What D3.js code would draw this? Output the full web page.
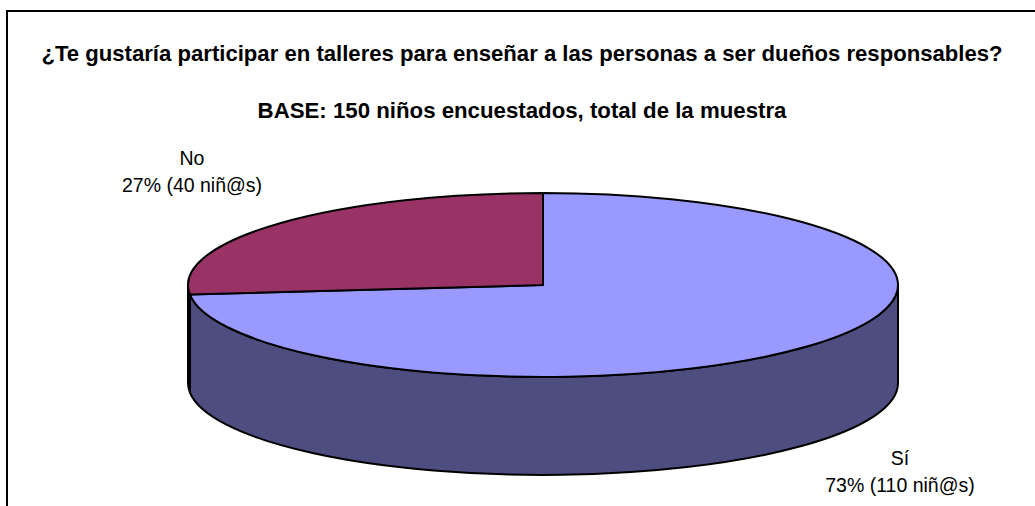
<!DOCTYPE html>
<html>
<head>
<meta charset="utf-8">
<script src="https://cdn.jsdelivr.net/npm/d3@7"></script>
<style>
  html, body { margin: 0; padding: 0; background: #fff; }
  svg { display: block; font-family: "Liberation Sans", Arial, sans-serif; }
</style>
</head>
<body>
<svg id="chart" width="1035" height="506"></svg>
<script>
// Survey answers
const categories = ["Sí", "No"];
const counts = [110, 40];
const topColors = ["#9999FF", "#993366"];
const sideColors = ["#4D4D80", "#4D1A33"];

const title = "¿Te gustaría participar en talleres para enseñar a las personas a ser dueños responsables?";
const subtitle = "BASE: 150 niños encuestados, total de la muestra";
const unit = "niñ@s";

const svg = d3.select("#chart");
const W = 1035, H = 506;

// Chart frame (runs off the right and bottom edges)
svg.append("rect")
  .attr("x", 7).attr("y", 11)
  .attr("width", W + 20).attr("height", H + 20)
  .attr("fill", "#fff").attr("stroke", "#000").attr("stroke-width", 2);

// Shrinks or grows a text's font size so that it spans the given width
function fitWidth(sel, width) {
  const node = sel.node();
  const fs = parseFloat(sel.attr("font-size"));
  const len = node.getComputedTextLength();
  sel.attr("font-size", (fs * width / len).toFixed(2));
}

const t1 = svg.append("text")
  .attr("x", 522).attr("y", 61)
  .attr("text-anchor", "middle").attr("font-weight", "bold")
  .attr("font-size", 20).attr("fill", "#000").text(title);
fitWidth(t1, 962);

const t2 = svg.append("text")
  .attr("x", 522).attr("y", 118)
  .attr("text-anchor", "middle").attr("font-weight", "bold")
  .attr("font-size", 20).attr("fill", "#000").text(subtitle);
fitWidth(t2, 529);

// 3D pie geometry
const cx = 543, cy = 285, rx = 355, ry = 92, depth = 98;
const pt = (a, dy = 0) => [cx + rx * Math.sin(a), cy - ry * Math.cos(a) + dy];

const pie = d3.pie().sort(null).value(d => d)
  .startAngle(0).endAngle(2 * Math.PI);
const arcs = pie(counts);

const gSide = svg.append("g");
const gTop = svg.append("g");

// Front walls: only the part of each slice between 90° and 270° faces the viewer
arcs.forEach((d, i) => {
  const b0 = Math.max(d.startAngle, Math.PI / 2);
  const b1 = Math.min(d.endAngle, 3 * Math.PI / 2);
  if (b1 <= b0) return;
  const p0 = pt(b0), p1 = pt(b1), q1 = pt(b1, depth), q0 = pt(b0, depth);
  const dStr = `M${p0[0]},${p0[1]} A${rx},${ry} 0 0 1 ${p1[0]},${p1[1]} ` +
    `L${q1[0]},${q1[1]} A${rx},${ry} 0 0 0 ${q0[0]},${q0[1]} Z`;
  gSide.append("path")
    .attr("d", dStr)
    .attr("fill", sideColors[i])
    .attr("stroke", "#000").attr("stroke-width", 2)
    .attr("stroke-linejoin", "round");
});

// Top faces
arcs.forEach((d, i) => {
  const p0 = pt(d.startAngle), p1 = pt(d.endAngle);
  const large = (d.endAngle - d.startAngle) > Math.PI ? 1 : 0;
  const dStr = `M${cx},${cy} L${p0[0]},${p0[1]} A${rx},${ry} 0 ${large} 1 ${p1[0]},${p1[1]} Z`;
  gTop.append("path")
    .attr("d", dStr)
    .attr("fill", topColors[i])
    .attr("stroke", "#000").attr("stroke-width", 2)
    .attr("stroke-linejoin", "round");
});

// Data labels
const total = d3.sum(counts);
const labelPos = [
  { x: 900, y1: 465, y2: 492 },   // Sí
  { x: 192, y1: 165, y2: 192 }    // No
];
categories.forEach((c, i) => {
  const pct = Math.round(counts[i] / total * 100);
  const g = svg.append("g").attr("fill", "#000");
  g.append("text")
    .attr("x", labelPos[i].x).attr("y", labelPos[i].y1)
    .attr("text-anchor", "middle").attr("font-size", 19.5).text(c);
  g.append("text")
    .attr("x", labelPos[i].x).attr("y", labelPos[i].y2)
    .attr("text-anchor", "middle").attr("font-size", 19.5)
    .text(`${pct}% (${counts[i]} ${unit})`);
});
</script>
</body>
</html>
